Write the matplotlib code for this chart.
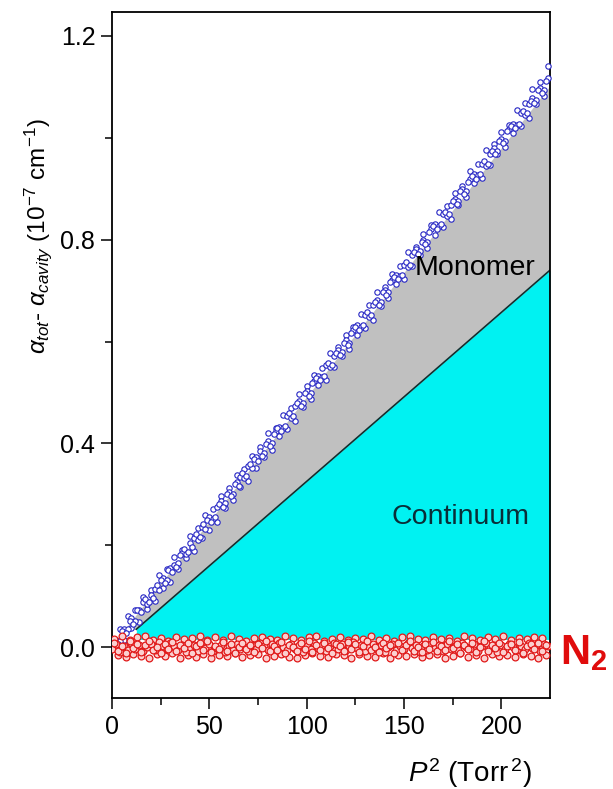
import matplotlib
matplotlib.use("Agg")
import matplotlib.pyplot as plt
import numpy as np

plt.rcParams["font.family"] = ["Liberation Sans", "DejaVu Sans"]
plt.rcParams["mathtext.fontset"] = "custom"
plt.rcParams["mathtext.rm"] = "Liberation Sans"
plt.rcParams["mathtext.it"] = "Liberation Sans:italic"
plt.rcParams["mathtext.bf"] = "Liberation Sans:bold"

# total absorption (blue), even P^2 samples
blue_x_even = np.arange(2, 226, 2)
blue_y_even = [
    0.014, 0.012, 0.035, 0.036, 0.058, 0.052, 0.073, 0.088, 0.084, 0.103,
    0.115, 0.112, 0.136, 0.131, 0.156, 0.162, 0.165, 0.184, 0.182, 0.205,
    0.214, 0.211, 0.236, 0.232, 0.256, 0.251, 0.275, 0.286, 0.283, 0.305,
    0.301, 0.325, 0.334, 0.332, 0.355, 0.351, 0.374, 0.385, 0.381, 0.404,
    0.400, 0.424, 0.433, 0.430, 0.454, 0.450, 0.473, 0.484, 0.480, 0.503,
    0.499, 0.523, 0.533, 0.530, 0.553, 0.549, 0.572, 0.583, 0.579, 0.602,
    0.598, 0.622, 0.632, 0.629, 0.652, 0.648, 0.671, 0.682, 0.678, 0.701,
    0.697, 0.721, 0.731, 0.728, 0.751, 0.747, 0.770, 0.781, 0.777, 0.800,
    0.796, 0.820, 0.830, 0.827, 0.850, 0.846, 0.869, 0.880, 0.876, 0.899,
    0.895, 0.919, 0.929, 0.926, 0.949, 0.945, 0.968, 0.979, 0.975, 0.998,
    0.994, 1.018, 1.028, 1.025, 1.048, 1.044, 1.067, 1.078, 1.074, 1.097,
    1.093, 1.117,
]
# odd P^2 samples
blue_x_odd = np.arange(3, 225, 2)
blue_y_odd = [
    0.006, 0.031, 0.027, 0.052, 0.046, 0.072, 0.068, 0.094, 0.088, 0.097,
    0.122, 0.131, 0.126, 0.151, 0.147, 0.157, 0.180, 0.192, 0.187, 0.196,
    0.222, 0.217, 0.241, 0.250, 0.246, 0.256, 0.281, 0.276, 0.301, 0.297,
    0.320, 0.316, 0.341, 0.335, 0.360, 0.370, 0.365, 0.375, 0.399, 0.394,
    0.419, 0.430, 0.425, 0.435, 0.459, 0.454, 0.480, 0.474, 0.498, 0.493,
    0.518, 0.528, 0.524, 0.533, 0.558, 0.553, 0.578, 0.573, 0.597, 0.593,
    0.617, 0.628, 0.623, 0.632, 0.657, 0.652, 0.677, 0.672, 0.697, 0.692,
    0.716, 0.727, 0.722, 0.731, 0.756, 0.751, 0.776, 0.771, 0.796, 0.791,
    0.815, 0.826, 0.821, 0.830, 0.855, 0.850, 0.875, 0.870, 0.895, 0.890,
    0.914, 0.925, 0.920, 0.929, 0.954, 0.949, 0.974, 0.969, 0.994, 0.989,
    1.013, 1.024, 1.019, 1.028, 1.053, 1.048, 1.073, 1.069, 1.093, 1.088,
    1.112,
]
# outlying readings above / below the band
blue_x_hi = np.arange(4, 228, 4)
blue_y_hi = [
    0.036, 0.061, 0.073, 0.098, 0.113, 0.141, 0.154, 0.177, 0.191, 0.218,
    0.234, 0.260, 0.271, 0.296, 0.313, 0.338, 0.349, 0.376, 0.393, 0.420,
    0.431, 0.455, 0.469, 0.497, 0.512, 0.535, 0.548, 0.578, 0.590, 0.613,
    0.629, 0.655, 0.671, 0.698, 0.707, 0.733, 0.749, 0.775, 0.786, 0.812,
    0.829, 0.855, 0.867, 0.892, 0.906, 0.934, 0.949, 0.976, 0.987, 1.011,
    1.025, 1.054, 1.068, 1.096, 1.109, 1.141,
]
blue_x_lo = np.arange(2, 226, 4)
blue_y_lo = [
    0.000, 0.014, 0.037, 0.049, 0.074, 0.090, 0.117, 0.128, 0.153, 0.175,
    0.188, 0.215, 0.230, 0.246, 0.273, 0.289, 0.315, 0.326, 0.351, 0.373,
    0.387, 0.414, 0.428, 0.444, 0.471, 0.487, 0.514, 0.525, 0.549, 0.571,
    0.585, 0.612, 0.627, 0.643, 0.670, 0.685, 0.712, 0.723, 0.748, 0.770,
    0.784, 0.810, 0.825, 0.841, 0.868, 0.884, 0.911, 0.921, 0.946, 0.968,
    0.982, 1.009, 1.024, 1.039, 1.066, 1.082,
]

# N2 (red)
red_x_even = np.arange(0, 226, 2)
red_y_even = [
    -0.004, 0.006, -0.010, 0.002, -0.006, 0.008, -0.003, 0.004, -0.008, 0.001,
    0.007, -0.005, 0.010, 0.003, -0.004, 0.009, 0.002, -0.006, 0.004, -0.009,
    0.000, 0.005, -0.007, 0.003, -0.002, 0.006, -0.008, -0.001, 0.004, -0.010,
    0.002, -0.005, 0.007, -0.003, 0.001, -0.008, 0.005, -0.004, 0.008, 0.002,
    -0.006, 0.006, -0.002, 0.009, 0.001, -0.005, 0.007, -0.003, 0.004, -0.009,
    0.003, -0.004, 0.008, -0.001, 0.005, -0.007, 0.002, 0.009, -0.003, 0.006,
    -0.006, 0.003, 0.010, -0.002, 0.005, -0.008, 0.001, 0.007, -0.004, 0.004,
    -0.009, 0.000, 0.006, -0.006, 0.003, -0.003, 0.008, -0.002, 0.005, -0.010,
    0.002, -0.005, 0.006, -0.001, 0.004, -0.008, 0.007, -0.003, 0.003, -0.006,
    0.009, 0.001, -0.004, 0.006, -0.007, 0.002, 0.008, -0.002, 0.004, -0.009,
    0.005, -0.003, 0.007, 0.000, -0.006, 0.003, -0.004, 0.008, -0.001, 0.005,
    -0.007, 0.006, 0.002,
]
red_x_odd = np.arange(1, 225, 2)
red_y_odd = [
    0.008, -0.007, 0.003, -0.012, 0.011, -0.002, 0.006, -0.009, 0.004, 0.012,
    -0.006, 0.001, -0.011, 0.007, -0.004, 0.010, -0.008, 0.005, -0.001, 0.009,
    -0.012, 0.003, 0.008, -0.005, 0.011, -0.009, 0.002, -0.003, 0.010, -0.007,
    0.006, -0.011, 0.001, 0.009, -0.004, 0.004, -0.010, 0.007, -0.002, 0.012,
    -0.008, 0.003, -0.005, 0.010, -0.011, 0.005, 0.000, -0.007, 0.008, -0.003,
    0.011, -0.009, 0.004, -0.006, 0.009, -0.001, -0.012, 0.006, 0.002, -0.008,
    0.010, -0.004, 0.007, -0.010, 0.003, 0.012, -0.006, 0.001, -0.009, 0.008,
    -0.002, 0.005, -0.011, 0.009, -0.005, 0.004, 0.011, -0.007, 0.000, -0.010,
    0.007, -0.003, 0.010, -0.008, 0.002, -0.006, 0.012, -0.001, 0.006, -0.011,
    0.004, -0.004, 0.009, -0.009, 0.001, 0.011, -0.007, 0.005, -0.002, 0.008,
    -0.010, 0.003, 0.007, -0.005, 0.010, -0.012, 0.002, 0.006, -0.003, 0.009,
    -0.008, 0.004,
]
red_x_hi = np.arange(1, 225, 4)
red_y_hi = [
    0.016, 0.021, 0.013, 0.019, 0.022, 0.014, 0.018, 0.012, 0.020, 0.015,
    0.017, 0.021, 0.013, 0.019, 0.014, 0.022, 0.016, 0.012, 0.018, 0.020,
    0.015, 0.013, 0.021, 0.017, 0.014, 0.019, 0.022, 0.012, 0.016, 0.020,
    0.013, 0.018, 0.015, 0.021, 0.014, 0.017, 0.012, 0.019, 0.022, 0.016,
    0.013, 0.020, 0.015, 0.018, 0.012, 0.021, 0.017, 0.014, 0.019, 0.016,
    0.022, 0.013, 0.018, 0.015, 0.020, 0.017,
]
red_x_lo = np.arange(3, 227, 4)
red_y_lo = [
    -0.015, -0.020, -0.013, -0.018, -0.022, -0.014, -0.017, -0.012, -0.021, -0.016,
    -0.019, -0.013, -0.022, -0.015, -0.018, -0.012, -0.020, -0.016, -0.014, -0.021,
    -0.017, -0.013, -0.019, -0.022, -0.015, -0.012, -0.018, -0.020, -0.014, -0.016,
    -0.021, -0.013, -0.017, -0.019, -0.012, -0.022, -0.015, -0.018, -0.014, -0.020,
    -0.016, -0.013, -0.021, -0.017, -0.012, -0.019, -0.015, -0.022, -0.014, -0.018,
    -0.016, -0.020, -0.013, -0.017, -0.021, -0.015,
]

# region boundaries (P^2, alpha)
monomer_x = [5, 225]
monomer_y = [0.025, 1.10]
continuum_x = [12.5, 225]
continuum_y = [0.035, 0.74]
baseline_y = 0.015

fig = plt.figure(figsize=(6.13, 7.89), dpi=100)
ax = fig.add_axes([0.1827, 0.1153, 0.7145, 0.8695])

# grey monomer band between continuum line and monomer line
gx = [monomer_x[0], monomer_x[1], continuum_x[1], continuum_x[0]]
gy = [monomer_y[0], monomer_y[1], continuum_y[1], continuum_y[0]]
ax.fill(gx, gy, color="#c0c0c0", lw=0, zorder=1)
ax.fill_between(continuum_x, [baseline_y, baseline_y], continuum_y,
                color="#00f2f2", lw=0, zorder=1)
ax.plot(continuum_x, continuum_y, color="#0f2f2f", lw=1.2, zorder=2)

blue_sets = [(blue_x_hi, blue_y_hi), (blue_x_lo, blue_y_lo),
             (blue_x_even, blue_y_even), (blue_x_odd, blue_y_odd)]
for bx, by in blue_sets:
    ax.scatter(bx, by, s=15, facecolors="white", edgecolors="#2626c4",
               linewidths=0.8, zorder=3, clip_on=False)
red_sets = [(red_x_hi, red_y_hi), (red_x_lo, red_y_lo),
            (red_x_even, red_y_even), (red_x_odd, red_y_odd)]
for rx, ry in red_sets:
    ax.scatter(rx, ry, s=24, facecolors="#fbd0d0", edgecolors="#e01818",
               linewidths=0.9, zorder=3)

ax.text(186.5, 0.745, "Monomer", fontsize=20.5, ha="center", va="center", zorder=4)
ax.text(179, 0.255, "Continuum", fontsize=20.5, ha="center", va="center",
        color="#0a2e38", zorder=4)

ax.set_xlim(0, 225)
ax.set_ylim(-0.1, 1.247)
ax.set_xticks([0, 50, 100, 150, 200])
ax.set_xticks([25, 75, 125, 175], minor=True)
ax.set_yticks([0.0, 0.4, 0.8, 1.2])
ax.set_yticks([0.2, 0.6, 1.0], minor=True)
ax.set_yticklabels(["0.0", "0.4", "0.8", "1.2"])
ax.tick_params(which="major", direction="out", length=8, width=1.1, labelsize=18, pad=4)
ax.tick_params(which="minor", direction="out", length=5, width=1.1)
for s in ax.spines.values():
    s.set_linewidth(1.3)

fig.text(0.766, 0.02, r"$P^2$ (Torr$^{\,2}$)", fontsize=20, ha="center", va="center")
fig.text(0.062, 0.701, r"$\alpha_{tot}$- $\alpha_{cavity}$ (10$^{-7}$ cm$^{-1}$)",
         fontsize=17.5, rotation=90, ha="center", va="center")
fig.text(0.914, 0.172, r"$\mathbf{N_2}$", fontsize=30, color="#e00c0c",
         ha="left", va="center")

fig.savefig("out.png", dpi=100)
